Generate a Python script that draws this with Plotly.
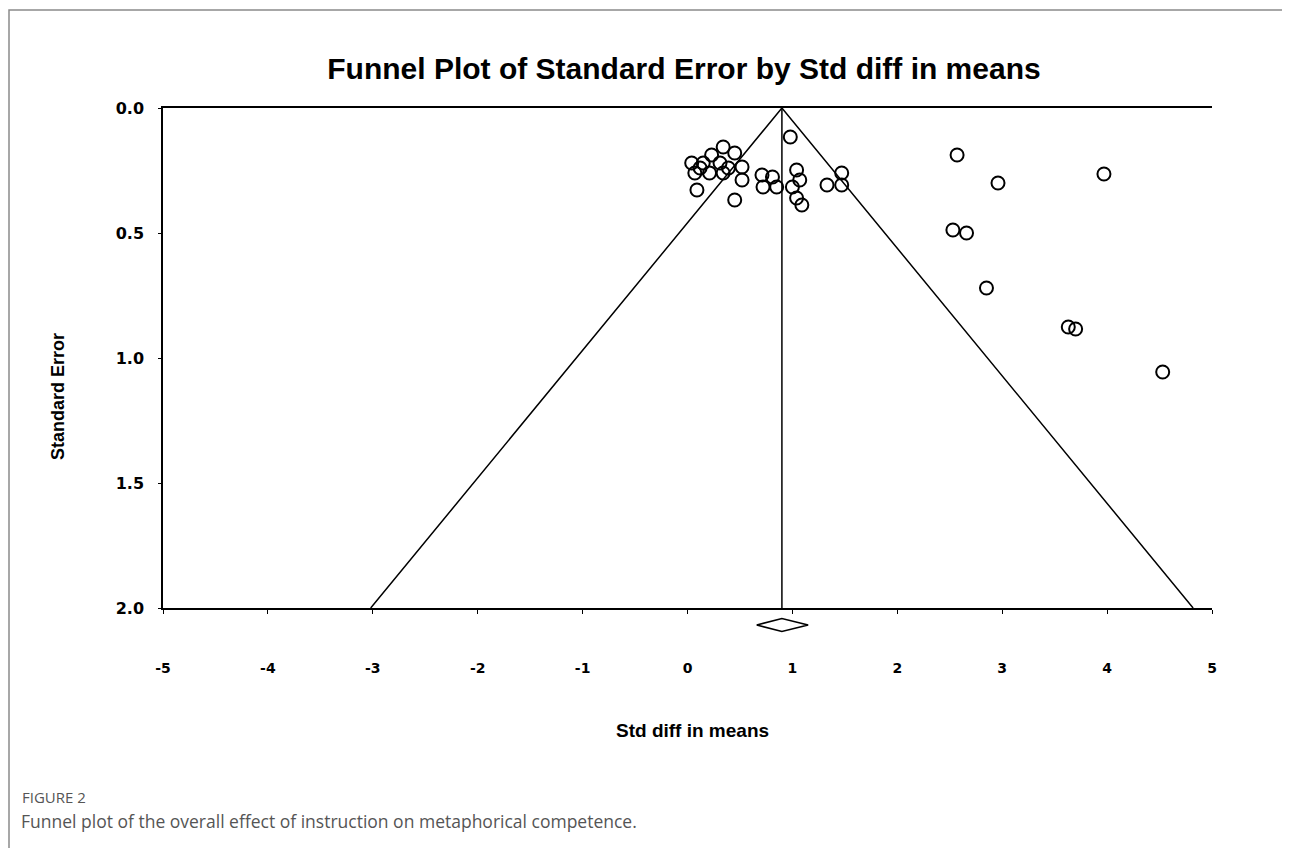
import plotly.graph_objects as go

# ── Study estimates (Std diff in means, Standard Error) ──────────────────
STD_DIFF = [
    0.34, 0.45, 0.23, 0.04, 0.15, 0.31, 0.52, 0.07, 0.21, 0.34, 0.52, 0.09,
    0.45, 0.12, 0.39, 0.98, 0.71, 0.81, 0.72, 0.85, 1.04, 1.07, 1.00, 1.04,
    1.09, 1.33, 1.47, 1.47,
    2.57, 2.96, 3.97, 2.53, 2.66, 2.85, 3.63, 3.70, 4.53,
]
STD_ERR = [
    0.156, 0.180, 0.188, 0.220, 0.220, 0.220, 0.236, 0.260, 0.260, 0.260, 0.288, 0.328,
    0.368, 0.240, 0.240, 0.116, 0.268, 0.276, 0.316, 0.316, 0.248, 0.288, 0.316, 0.360,
    0.388, 0.308, 0.260, 0.308,
    0.188, 0.300, 0.264, 0.488, 0.500, 0.720, 0.876, 0.884, 1.056,
]

# summary effect and its confidence interval (diamond)
MEAN_EFFECT = 0.90
CI_LOW = 0.66
CI_HIGH = 1.15
SE_MAX = 2.0

X_TICKS = [-5, -4, -3, -2, -1, 0, 1, 2, 3, 4, 5]
X_TICKTEXT = ["-5", "-4", "-3", "-2", "-1", "0", "1", "2", "3", "4", "5"]
Y_TICKS = [0.0, 0.5, 1.0, 1.5, 2.0]

TITLE = "Funnel Plot of Standard Error by Std diff in means"
CAPTION_HEAD = "FIGURE 2"
CAPTION = "Funnel plot of the overall effect of instruction on metaphorical competence."

BLACK = "#000000"
Y_TICK_FONT = dict(family="DejaVu Sans", size=16, color=BLACK, weight="bold")
X_TICK_FONT = dict(family="DejaVu Sans", size=14, color=BLACK, weight="bold")

# plot area in page pixels (page is offset by the 8px body margin)
L, T, W, H = 155, 100, 1049, 500


def px(x):
    return (x - 8 - L) / W


def py(y):
    return (T + H - (y - 8)) / H


fig = go.Figure()

# funnel (pseudo 95% limits) and mean line
fig.add_trace(go.Scatter(
    x=[MEAN_EFFECT - 1.96 * SE_MAX, MEAN_EFFECT, MEAN_EFFECT + 1.96 * SE_MAX],
    y=[SE_MAX, 0, SE_MAX],
    mode="lines", line=dict(color=BLACK, width=1.5),
    hoverinfo="skip", showlegend=False,
))
fig.add_trace(go.Scatter(
    x=[MEAN_EFFECT, MEAN_EFFECT], y=[0, SE_MAX],
    mode="lines", line=dict(color=BLACK, width=1.5),
    hoverinfo="skip", showlegend=False,
))

# studies
fig.add_trace(go.Scatter(
    x=STD_DIFF, y=STD_ERR, mode="markers",
    marker=dict(symbol="circle-open", size=13, color=BLACK, line=dict(width=2, color=BLACK)),
    showlegend=False,
))

# summary diamond just below the axis
yc, hh = -0.034, 0.013
fig.add_shape(
    type="path", xref="x", yref="paper",
    path=(f"M {CI_LOW} {yc} L {MEAN_EFFECT} {yc + hh} "
          f"L {CI_HIGH} {yc} L {MEAN_EFFECT} {yc - hh} Z"),
    line=dict(color=BLACK, width=1.5), fillcolor="white",
)

# outer figure frame
fig.add_shape(
    type="rect", xref="paper", yref="paper",
    x0=px(9), x1=1.2, y0=-0.55, y1=py(10),
    line=dict(color="#8a8a8a", width=1.5),
)

fig.update_layout(
    width=1290, height=848,
    paper_bgcolor="white", plot_bgcolor="white",
    margin=dict(l=L, r=1290 - L - W, t=T, b=848 - T - H),
    title=dict(
        text=TITLE, x=px(684), xref="paper", y=1 - 60 / 848, yanchor="middle",
        font=dict(family="Liberation Sans", size=30, color=BLACK, weight="bold"),
    ),
    xaxis=dict(
        range=[-5, 5], tickvals=X_TICKS, ticktext=X_TICKTEXT,
        showgrid=False, zeroline=False,
        showline=True, linecolor=BLACK, linewidth=1.5, mirror=True,
        ticks="outside", ticklen=4, tickcolor=BLACK,
        ticklabelstandoff=42, tickfont=X_TICK_FONT,
    ),
    yaxis=dict(
        range=[SE_MAX, 0], tickvals=Y_TICKS, tickformat=".1f",
        showgrid=False, zeroline=False,
        showline=True, linecolor=BLACK, linewidth=1.5,
        ticks="outside", ticklen=3, tickcolor=BLACK,
        ticklabelstandoff=11, tickfont=Y_TICK_FONT,
    ),
    annotations=[
        dict(text="Standard Error", textangle=-90, xref="paper", yref="paper",
             x=px(58), y=py(397), xanchor="center", yanchor="middle", showarrow=False,
             font=dict(family="Liberation Sans", size=18, color=BLACK, weight="bold")),
        dict(text="Std diff in means", xref="paper", yref="paper",
             x=px(692), y=py(730), xanchor="center", yanchor="middle", showarrow=False,
             font=dict(family="Liberation Sans", size=19, color=BLACK, weight="bold")),
        dict(text=CAPTION_HEAD, xref="paper", yref="paper", xanchor="left", yanchor="middle",
             x=px(20), y=py(797), showarrow=False,
             font=dict(family="Open Sans", size=15, color="#555555")),
        dict(text=CAPTION, xref="paper", yref="paper", xanchor="left", yanchor="middle",
             x=px(19), y=py(821), showarrow=False,
             font=dict(family="Open Sans", size=17.5, color="#555555")),
    ],
)

fig.write_html("out.html")
